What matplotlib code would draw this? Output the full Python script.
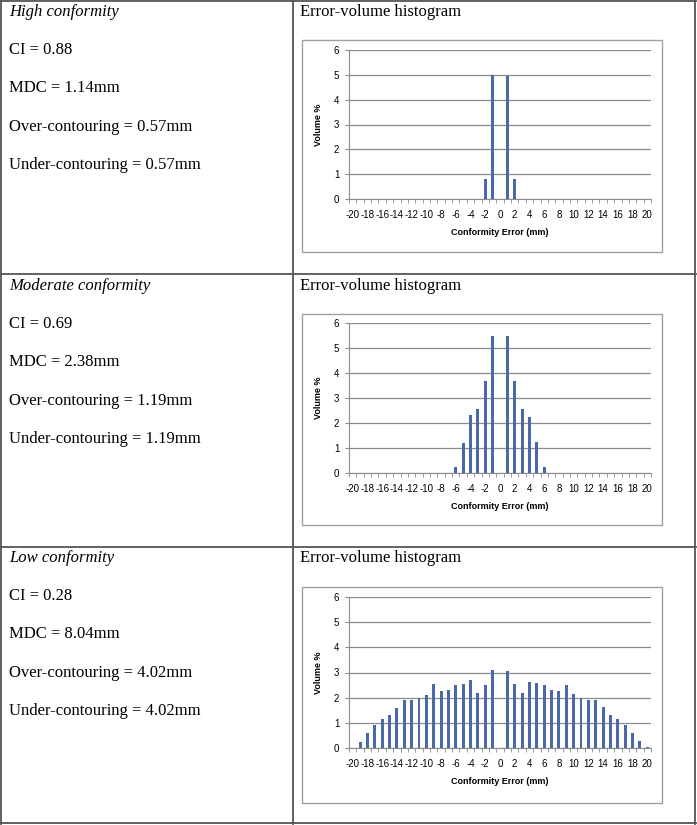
import matplotlib.pyplot as plt
from matplotlib.lines import Line2D
from matplotlib.patches import Rectangle
import numpy as np

### DATA ###
errors = list(range(-20, 21))  # conformity error categories (mm)
tick_labels = [str(v) for v in range(-20, 21, 2)]

row_titles = ['High conformity', 'Moderate conformity', 'Low conformity']
ci_values = ['0.88', '0.69', '0.28']
mdc_values = ['1.14mm', '2.38mm', '8.04mm']
over_values = ['0.57mm', '1.19mm', '4.02mm']
under_values = ['0.57mm', '1.19mm', '4.02mm']

high_vol = [0]*18 + [0.82, 4.99, 0, 4.97, 0.82] + [0]*18
moderate_vol = [0]*14 + [0.25, 1.22, 2.31, 2.58, 3.68, 5.5, 0,
                         5.5, 3.68, 2.55, 2.26, 1.24, 0.25] + [0]*14
low_vol = [0, 0.25, 0.6, 0.91, 1.17, 1.32, 1.59, 1.91, 1.89, 2.0, 2.09,
           2.54, 2.28, 2.3, 2.5, 2.53, 2.69, 2.19, 2.49, 3.1, 0,
           3.07, 2.54, 2.19, 2.64, 2.58, 2.5, 2.3, 2.25, 2.52, 2.15,
           2.0, 1.89, 1.89, 1.63, 1.3, 1.17, 0.93, 0.58, 0.28, 0.05]
volumes = [high_vol, moderate_vol, low_vol]
### DATA ###

W, H = 697, 825
fig = plt.figure(figsize=(W/100, H/100), dpi=100)

def fx(x): return x / W
def fy(y): return 1 - y / H

serif = 'Liberation Serif'
sans = 'Liberation Sans'

# table grid
line_col = '#555555'
for y in [1, 274, 547, 823]:
	fig.add_artist(Line2D([fx(0), fx(696)], [fy(y), fy(y)], color=line_col, lw=1.3))
for x in [1, 293, 695]:
	fig.add_artist(Line2D([fx(x), fx(x)], [fy(0), fy(824)], color=line_col, lw=1.3))

row_tops = [12, 286, 558]
chart_boxes = [(302, 40, 662, 252), (302, 314, 662, 525), (302, 587, 662, 803)]
plot_areas = [(349, 50, 651, 199), (349, 323, 651, 473), (349, 597, 651, 748)]

for i in range(3):
	t = row_tops[i]
	fig.text(fx(9), fy(t), row_titles[i], family=serif, style='italic', fontsize=12, va='center')
	fig.text(fx(9), fy(t + 38), 'CI = ' + ci_values[i], family=serif, fontsize=12, va='center')
	fig.text(fx(9), fy(t + 76), 'MDC = ' + mdc_values[i], family=serif, fontsize=12, va='center')
	fig.text(fx(9), fy(t + 115), 'Over-contouring = ' + over_values[i], family=serif, fontsize=12, va='center')
	fig.text(fx(9), fy(t + 153), 'Under-contouring = ' + under_values[i], family=serif, fontsize=12, va='center')
	fig.text(fx(300), fy(t), 'Error-volume histogram', family=serif, fontsize=12, va='center')

	# chart border
	x0, y0, x1, y1 = chart_boxes[i]
	fig.add_artist(Rectangle((fx(x0), fy(y1)), fx(x1) - fx(x0), fy(y0) - fy(y1),
	                         fill=False, edgecolor='#a0a0a0', lw=1.0))

	# plot area
	l, tp, r, b = plot_areas[i]
	ax = fig.add_axes([fx(l), fy(b), fx(r) - fx(l), fy(tp) - fy(b)])
	ax.bar(errors, volumes[i], width=0.4, color='#4a69a9', zorder=3)
	ax.set_xlim(-20.5, 20.5)
	ax.set_ylim(0, 6)
	ax.set_yticks(range(0, 7))
	ax.yaxis.grid(True, color='#8c8c8c', lw=0.9, zorder=0)
	ax.set_xticks(range(-20, 21, 2))
	ax.set_xticklabels(tick_labels)
	ax.set_xticks(np.arange(-20.5, 21, 1), minor=True)
	ax.tick_params(axis='x', which='major', length=0, labelsize=7, pad=8, colors='black')
	ax.tick_params(axis='x', which='minor', length=3, color='#8c8c8c', direction='out')
	ax.tick_params(axis='y', which='major', length=3, color='#8c8c8c', labelsize=7, pad=4)
	for lab in ax.get_xticklabels() + ax.get_yticklabels():
		lab.set_family(sans)
	for s in ['top', 'right']:
		ax.spines[s].set_visible(False)
	ax.spines['left'].set_color('#8c8c8c')
	ax.spines['bottom'].set_color('#8c8c8c')
	ax.set_ylabel('Volume %', family=sans, fontsize=6.5, fontweight='bold', labelpad=8)
	ax.set_xlabel('Conformity Error (mm)', family=sans, fontsize=6.5, fontweight='bold', labelpad=6)

fig.savefig('out.png', dpi=100)
